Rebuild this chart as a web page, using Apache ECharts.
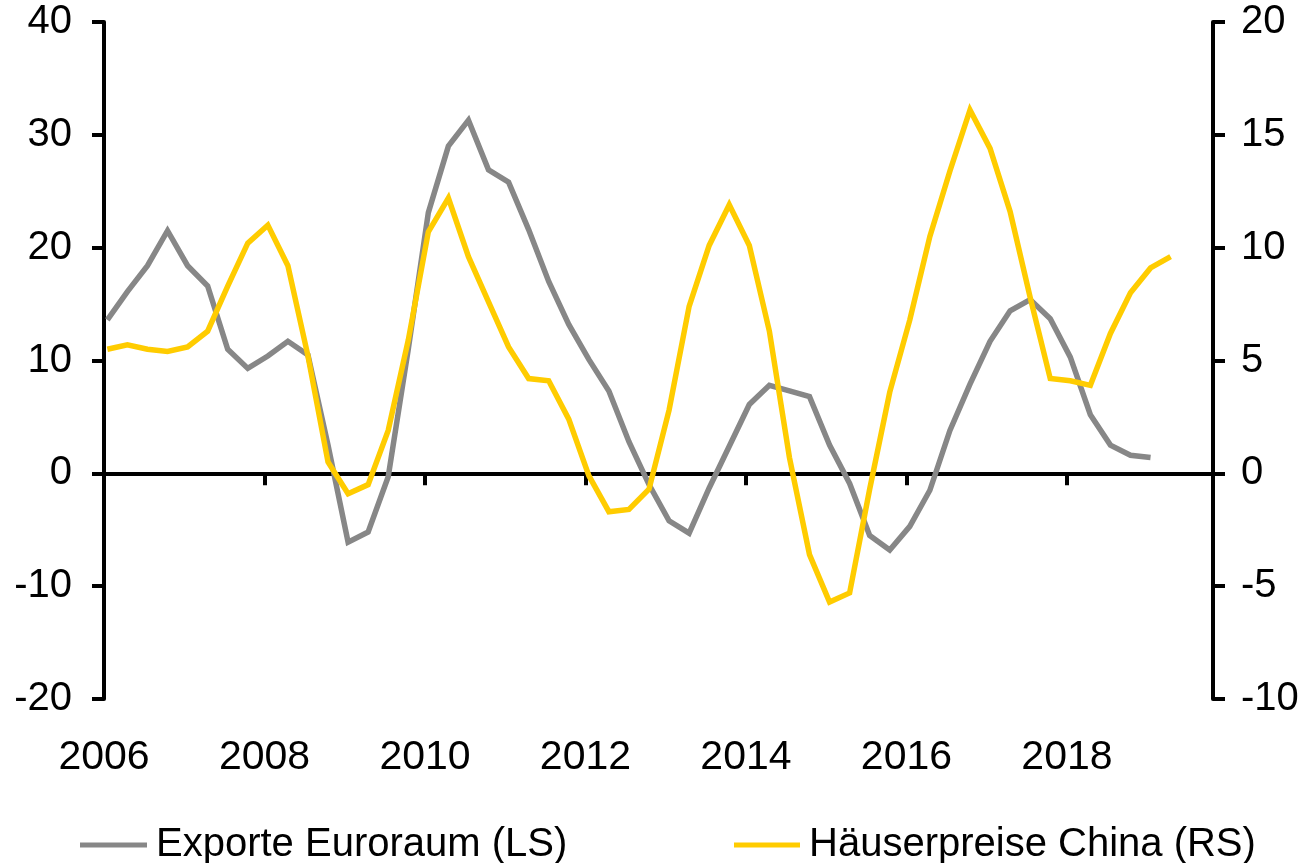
<!DOCTYPE html>
<html>
<head>
<meta charset="utf-8">
<script src="https://cdn.jsdelivr.net/npm/echarts@6/dist/echarts.min.js"></script>
<style>
  html, body { margin: 0; padding: 0; background: #fff; }
  #chart { width: 1303px; height: 863px; }
</style>
</head>
<body>
<div id="chart"></div>
<script>
// Quartale 2006Q1 .. 2019Q2
const quarters = [
  '2006Q1','2006Q2','2006Q3','2006Q4','2007Q1','2007Q2','2007Q3','2007Q4',
  '2008Q1','2008Q2','2008Q3','2008Q4','2009Q1','2009Q2','2009Q3','2009Q4',
  '2010Q1','2010Q2','2010Q3','2010Q4','2011Q1','2011Q2','2011Q3','2011Q4',
  '2012Q1','2012Q2','2012Q3','2012Q4','2013Q1','2013Q2','2013Q3','2013Q4',
  '2014Q1','2014Q2','2014Q3','2014Q4','2015Q1','2015Q2','2015Q3','2015Q4',
  '2016Q1','2016Q2','2016Q3','2016Q4','2017Q1','2017Q2','2017Q3','2017Q4',
  '2018Q1','2018Q2','2018Q3','2018Q4','2019Q1','2019Q2'
];

// Exporte Euroraum, % ggü. Vorjahr (linke Skala)
const exporteEuroraum = [
  13.6, 16.1, 18.4, 21.5, 18.4, 16.6, 11.0, 9.3,
  10.4, 11.7, 10.5, 2.5, -6.1, -5.2, -0.3, 11.0,
  23.1, 29.0, 31.3, 26.9, 25.8, 21.6, 17.0, 13.2,
  10.1, 7.3, 2.8, -1.0, -4.2, -5.3, -1.3, 2.4,
  6.1, 7.8, 7.3, 6.8, 2.5, -0.9, -5.5, -6.8,
  -4.7, -1.5, 3.8, 7.9, 11.7, 14.4, 15.4, 13.7,
  10.3, 5.2, 2.5, 1.6, 1.4
];

// Häuserpreise China, % ggü. Vorjahr (rechte Skala)
const haeuserpreiseChina = [
  5.5, 5.7, 5.5, 5.4, 5.6, 6.3, 8.3, 10.2,
  11.0, 9.2, 5.2, 0.5, -0.9, -0.5, 1.9, 5.9,
  10.7, 12.2, 9.6, 7.6, 5.6, 4.2, 4.1, 2.4,
  -0.1, -1.7, -1.6, -0.7, 2.8, 7.4, 10.1, 11.9,
  10.1, 6.3, 0.7, -3.6, -5.7, -5.3, -0.7, 3.6,
  6.8, 10.5, 13.4, 16.1, 14.4, 11.6, 7.8, 4.2,
  4.1, 3.9, 6.2, 8.0, 9.1, 9.6
];

const yearTicks = [2006, 2008, 2010, 2012, 2014, 2016, 2018];

// Quartal -> Jahreszahl (Mitte des ersten Monats im Quartal)
function quarterToX(q) {
  const y = Number(q.slice(0, 4));
  const n = Number(q.slice(5));
  return y + ((n - 1) * 3 + 0.5) / 12;
}
function toPairs(values) {
  return values.map((v, i) => [quarterToX(quarters[i]), v]);
}

const FONT = "'Liberation Sans', Arial, sans-serif";
const axisLineStyle = { color: '#000', width: 4 };
const X_MIN = 2006, X_MAX = 2019.82;

const chart = echarts.init(document.getElementById('chart'));
const options = {
  animation: false,
  color: ['#878787', '#FFCC00'],
  textStyle: { fontFamily: FONT },
  grid: { left: 104, right: 90, top: 22, bottom: 164, containLabel: false },
  legend: [
    {
      data: ['Exporte Euroraum (LS)'],
      left: 75, top: 820,
      icon: 'rect', itemWidth: 67, itemHeight: 5,
      textStyle: { fontSize: 40, color: '#000', fontFamily: FONT, padding: [0, 0, 0, 4] }
    },
    {
      data: ['Häuserpreise China (RS)'],
      left: 729, top: 820,
      icon: 'rect', itemWidth: 66, itemHeight: 5,
      textStyle: { fontSize: 40, color: '#000', fontFamily: FONT, padding: [0, 0, 0, 4] }
    }
  ],
  xAxis: [
    {
      // nur Beschriftung unten
      type: 'value', min: X_MIN, max: X_MAX, interval: 2,
      position: 'bottom',
      axisLine: { show: false, onZero: false },
      axisTick: { show: false },
      splitLine: { show: false },
      axisLabel: {
        margin: 38, fontSize: 41, color: '#000', fontFamily: FONT,
        showMaxLabel: false,
        formatter: v => (yearTicks.indexOf(v) >= 0 ? String(v) : '')
      }
    },
    {
      // Nulllinie mit Jahresstrichen
      type: 'value', min: X_MIN, max: X_MAX, interval: 2,
      position: 'top',
      axisLine: { show: true, onZero: true, onZeroAxisIndex: 0, lineStyle: axisLineStyle },
      axisTick: { show: true, inside: true, length: 12, lineStyle: axisLineStyle },
      axisLabel: { show: false },
      splitLine: { show: false }
    }
  ],
  yAxis: [
    {
      type: 'value', min: -20, max: 40, interval: 10, position: 'left',
      axisLine: { show: true, onZero: false, lineStyle: axisLineStyle },
      axisTick: { show: true, length: 12, lineStyle: axisLineStyle },
      splitLine: { show: false },
      axisLabel: { margin: 32, fontSize: 40, color: '#000', fontFamily: FONT }
    },
    {
      type: 'value', min: -10, max: 20, interval: 5, position: 'right',
      axisLine: { show: true, onZero: false, lineStyle: axisLineStyle },
      axisTick: { show: true, length: 12, lineStyle: axisLineStyle },
      splitLine: { show: false },
      axisLabel: { margin: 28, fontSize: 40, color: '#000', fontFamily: FONT }
    }
  ],
  series: [
    {
      name: 'Exporte Euroraum (LS)',
      type: 'line',
      xAxisIndex: 0, yAxisIndex: 0,
      data: toPairs(exporteEuroraum),
      symbol: 'none',
      lineStyle: { width: 5.5, color: '#878787', join: 'miter' }
    },
    {
      name: 'Häuserpreise China (RS)',
      type: 'line',
      xAxisIndex: 0, yAxisIndex: 1,
      data: toPairs(haeuserpreiseChina),
      symbol: 'none',
      lineStyle: { width: 5.5, color: '#FFCC00', join: 'miter' }
    }
  ]
};
chart.setOption(options);
</script>
</body>
</html>
